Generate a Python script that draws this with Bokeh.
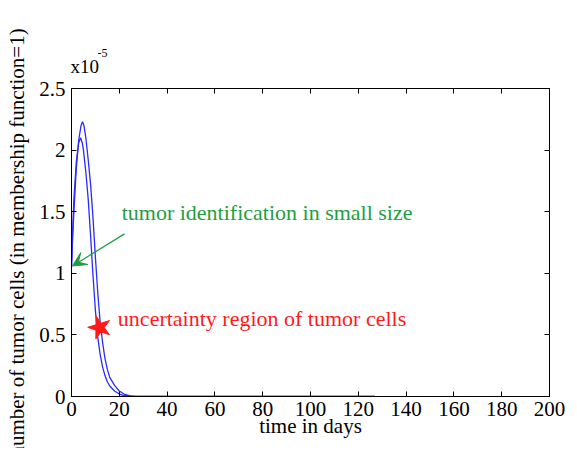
from bokeh.plotting import figure
from bokeh.models import Range1d, LinearAxis, FixedTicker, Arrow, VeeHead, Label, Title
from bokeh.embed import file_html
from bokeh.resources import INLINE

# Data (y values in units of 1e-5)
days_a = [0, 0.5, 1, 2, 3, 4, 4.6, 5.2, 6, 7, 8, 9, 10, 11, 12, 13, 14, 15, 16, 18, 20, 22, 25, 27, 30, 40, 60, 80, 100, 127]
cells_a = [1.05, 1.3, 1.5, 1.85, 2.08, 2.2, 2.23, 2.2, 2.1, 1.92, 1.72, 1.45, 1.13, 0.84, 0.6, 0.44, 0.31, 0.22, 0.155, 0.09, 0.045, 0.02, 0.004, 0.001, 0, 0, 0, 0, 0, 0]
days_b = [0, 0.5, 1, 2, 3, 3.8, 4.5, 5, 6, 7, 8, 9, 10, 11, 12, 13, 14, 15, 16, 18, 20, 22, 25, 30, 40, 60, 80, 100, 127]
cells_b = [1.05, 1.35, 1.6, 1.9, 2.06, 2.1, 2.06, 2.0, 1.82, 1.6, 1.3, 0.98, 0.7, 0.48, 0.34, 0.24, 0.17, 0.12, 0.085, 0.045, 0.02, 0.008, 0.001, 0, 0, 0, 0, 0, 0]
days_c = [20, 200]
cells_c = [0, 0]

x_ticks = [0, 20, 40, 60, 80, 100, 120, 140, 160, 180, 200]
y_ticks = [0, 0.5, 1, 1.5, 2, 2.5]

star_pos = [11.8, 0.56]
arrow_from = [22.2, 1.32]
arrow_to = [0.4, 1.06]
green_text_pos = [21.0, 1.49]
red_text_pos = [19.4, 0.635]

FONT = "Liberation Serif"
BLUE = "#2a2aff"
GREEN = "#1e9e3e"
RED = "#ff1a1a"

W, H = 569, 448
p = figure(width=W, height=H, output_backend="svg", toolbar_location=None,
           title_location=None,
           x_range=Range1d(0, 200), y_range=Range1d(0, 2.5),
           min_border_left=71, min_border_right=20, min_border_top=88, min_border_bottom=52)
p.xgrid.visible = False
p.ygrid.visible = False
p.outline_line_color = "black"
p.outline_line_width = 1
p.background_fill_color = "white"
p.border_fill_color = "white"

for ax in [p.xaxis[0], p.yaxis[0]]:
    ax.major_tick_in = 5
    ax.major_tick_out = 0
    ax.minor_tick_in = 0
    ax.minor_tick_out = 0
    ax.axis_line_color = "black"
    ax.major_label_text_font = FONT
    ax.major_label_text_font_size = "21px"
    ax.major_label_text_color = "black"
    ax.axis_label_text_font = FONT
    ax.axis_label_text_font_size = "21px"
    ax.axis_label_text_font_style = "normal"
    ax.axis_label_text_color = "black"

p.xaxis[0].ticker = FixedTicker(ticks=x_ticks)
p.yaxis[0].ticker = FixedTicker(ticks=y_ticks)
p.xaxis[0].major_label_overrides = {t: str(t) for t in x_ticks}
p.yaxis[0].major_label_overrides = {t: ("%g" % t) for t in y_ticks}
p.xaxis[0].axis_label = "time in days"
p.yaxis[0].axis_label = "number of tumor cells (in membership function=1)"
p.xaxis[0].major_label_standoff = 5
p.yaxis[0].major_label_standoff = 6
p.xaxis[0].axis_label_standoff = -5
p.yaxis[0].axis_label_standoff = 7

top = LinearAxis(ticker=FixedTicker(ticks=x_ticks), major_tick_in=5, major_tick_out=0,
                 minor_tick_in=0, minor_tick_out=0,
                 major_label_overrides={t: "" for t in x_ticks})
right = LinearAxis(ticker=FixedTicker(ticks=y_ticks), major_tick_in=5, major_tick_out=0,
                   minor_tick_in=0, minor_tick_out=0,
                   major_label_overrides={t: "" for t in y_ticks})
p.add_layout(top, "above")
p.add_layout(right, "right")

# exponent marker above the y axis
p.add_layout(Title(text="x10", align="left", offset=-1, standoff=24,
                   text_font=FONT, text_font_size="19px", text_font_style="normal",
                   text_color="black"), "above")
p.add_layout(Title(text="-5", align="left", offset=26, standoff=-30,
                   text_font=FONT, text_font_size="12px", text_font_style="normal",
                   text_color="black"), "above")

p.line(days_c, cells_c, line_color=BLUE, line_width=1)
p.line(days_a, cells_a, line_color=BLUE, line_width=1.3)
p.line(days_b, cells_b, line_color=BLUE, line_width=1.3)

p.add_layout(Arrow(end=VeeHead(size=14, fill_color=GREEN, line_color=GREEN),
                   x_start=arrow_from[0], y_start=arrow_from[1],
                   x_end=arrow_to[0], y_end=arrow_to[1],
                   line_color=GREEN, line_width=1.2))

p.scatter([star_pos[0]], [star_pos[1]], marker="star", size=24, fill_color=RED,
          line_color=RED, angle=0.3)

p.add_layout(Label(x=green_text_pos[0], y=green_text_pos[1], text="tumor identification in small size",
                   text_font=FONT, text_font_size="22px", text_color=GREEN,
                   text_baseline="middle", text_align="left"))
p.add_layout(Label(x=red_text_pos[0], y=red_text_pos[1], text="uncertainty region of tumor cells",
                   text_font=FONT, text_font_size="22px", text_color=RED,
                   text_baseline="middle", text_align="left"))

open("out.html", "w").write(file_html(p, INLINE))
